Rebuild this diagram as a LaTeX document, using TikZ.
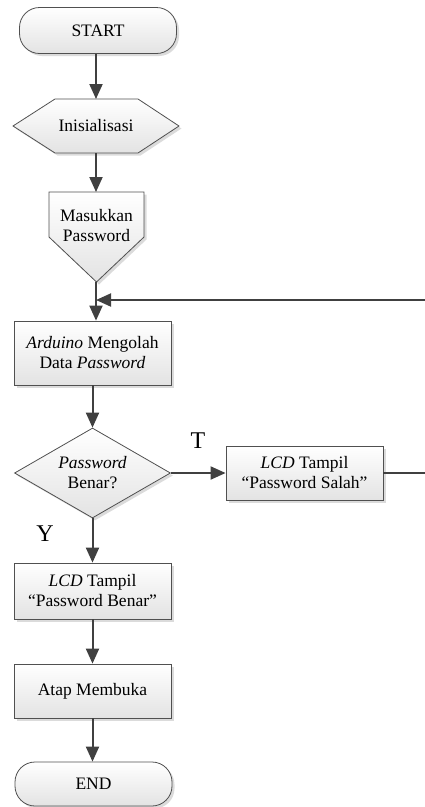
\documentclass[tikz,border=0pt]{standalone}
\usepackage{fontspec}
\setmainfont{Liberation Serif}
\usetikzlibrary{arrows.meta,shapes.geometric,shadows}
\definecolor{ln}{HTML}{404040}
\definecolor{bd}{HTML}{505050}
\begin{document}
\begin{tikzpicture}[x=1pt,y=-1pt,
  fc/.style={draw=bd, line width=0.8pt, top color=white, bottom color=black!11,
    drop shadow={shadow xshift=2.5pt, shadow yshift=-2.5pt, fill=black!14, opacity=1}},
  txt/.style={font=\fontsize{17.5}{20}\selectfont, align=center, inner sep=0pt},
  box/.style={fc, txt, rectangle, minimum width=157pt},
  term/.style={fc, txt, rectangle, rounded corners=20pt, minimum width=157pt},
  dec/.style={fc, txt, diamond, aspect=1.73, minimum width=156pt, minimum height=90pt},
  flow/.style={line width=2pt, draw=ln, -{Triangle[length=15pt,width=13pt]}},
  plain/.style={line width=2pt, draw=ln},
  lbl/.style={font=\fontsize{24}{26}\selectfont, inner sep=0pt}]
\useasboundingbox (0,0) rectangle (425,807);

% START
\node[term, minimum height=46pt] (start) at (98,30.5) {START};

% Inisialisasi (hexagon)
\path[fc] (13,126) -- (55,99) -- (138,99) -- (179,126) -- (138,153) -- (55,153) -- cycle;
\node[txt] (init) at (96,126) {Inisialisasi};
\coordinate (initT) at (96,99);
\coordinate (initB) at (96,153);

% Masukkan Password (off-page pentagon)
\path[fc] (49,192) -- (144,192) -- (144,237) -- (96.5,282) -- (49,237) -- cycle;
\node[txt] (input) at (96.5,226) {Masukkan\\Password};
\coordinate (inT) at (96,192);
\coordinate (inB) at (96,282);

% Arduino
\node[box, minimum height=64pt] (ard) at (92.5,353) {\textit{Arduino} Mengolah\\Data \textit{Password}};

% Decision
\node[dec] (chk) at (92.5,473) {\textit{Password}\\Benar?};

% LCD Salah
\node[box, minimum height=54pt] (salah) at (304.5,473) {\textit{LCD} Tampil\\``Password Salah''};

% LCD Benar
\node[box, minimum height=56pt] (benar) at (92.5,591) {\textit{LCD} Tampil\\``Password Benar''};

% Atap Membuka
\node[box, minimum height=54pt] (atap) at (92.5,691) {Atap Membuka};

% END
\node[term, minimum height=44pt] (end) at (93.5,784) {END};

% labels
\node[lbl] (T) at (198,441) {T};
\node[lbl] (Y) at (45,534) {Y};

% free ends
\coordinate (fbR) at (425,300);
\coordinate (salR) at (425,473);

% connectors
\draw[flow] (start.south -| initT) -- (initT);
\draw[flow] (initB) -- (inT);
\draw[flow] (inB) -- (inB |- ard.north);
\draw[flow] (fbR) -- (inB |- fbR);
\draw[flow] (ard.south) -- (chk.north);
\draw[flow] (chk.east) -- (salah.west);
\draw[plain] (salah.east) -- (salR);
\draw[flow] (chk.south) -- (benar.north);
\draw[flow] (benar.south) -- (atap.north);
\draw[flow] (atap.south) -- (atap.south |- end.north);
\end{tikzpicture}
\end{document}
